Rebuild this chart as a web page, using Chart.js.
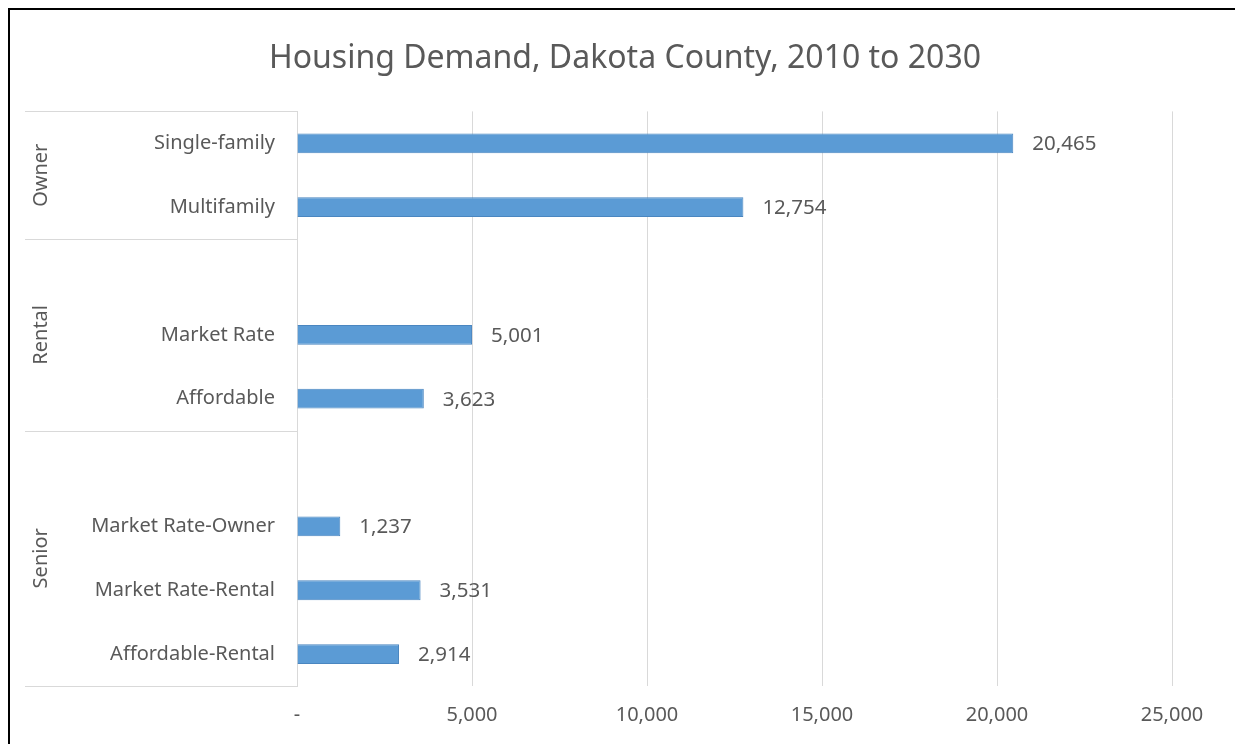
<!DOCTYPE html>
<html>
<head>
<meta charset="utf-8">
<script src="https://cdn.jsdelivr.net/npm/chart.js@4.4.1/dist/chart.umd.min.js"></script>
<style>
  html, body { margin: 0; padding: 0; background: #fff; overflow: hidden; }
  #wrap { position: relative; width: 1235px; height: 744px; overflow: hidden; }
  #frame {
    position: absolute; left: 8px; top: 8px; right: 0; bottom: 0;
    border-left: 2px solid #000; border-top: 2px solid #000;
    pointer-events: none;
  }
</style>
</head>
<body>
<div id="wrap">
  <canvas id="chart" width="1235" height="744"></canvas>
  <div id="frame"></div>
</div>
<script>
// Rows of the chart; blank rows keep a gap between the groups
const categories = [
  'Single-family', 'Multifamily',
  '', 'Market Rate', 'Affordable',
  '', 'Market Rate-Owner', 'Market Rate-Rental', 'Affordable-Rental',
];
const demand = [20465, 12754, null, 5001, 3623, null, 1237, 3531, 2914];

// Outer category level: name plus first/last row index
const groupNames = ['Owner', 'Rental', 'Senior'];
const groupStart = [0, 2, 5];
const groupEnd = [1, 4, 8];

const xTicks = [0, 5000, 10000, 15000, 20000, 25000];

const TEXT = '#595959';
const LINE = '#d9d9d9';
const FONT = '"Noto Sans", sans-serif';

const fmt = (v) => (v === 0 ? '-' : v.toLocaleString('en-US'));

// Draws the value next to the end of each bar
const valueLabels = {
  id: 'valueLabels',
  afterDatasetsDraw(chart) {
    const { ctx } = chart;
    const meta = chart.getDatasetMeta(0);
    ctx.save();
    ctx.font = `20.5px ${FONT}`;
    ctx.fillStyle = TEXT;
    ctx.textAlign = 'left';
    ctx.textBaseline = 'middle';
    meta.data.forEach((bar, i) => {
      const v = demand[i];
      if (v == null) return;
      ctx.fillText(fmt(v), bar.x + 19, bar.y + 1);
    });
    ctx.restore();
  },
};

// Group column on the left: separator lines and rotated group names
const groupColumn = {
  id: 'groupColumn',
  afterDraw(chart) {
    const { ctx } = chart;
    const y = chart.scales.y;
    const half = (y.getPixelForValue(1) - y.getPixelForValue(0)) / 2;
    const x0 = 25;
    const x1 = chart.chartArea.left;
    ctx.save();
    ctx.strokeStyle = LINE;
    ctx.lineWidth = 1;
    const edges = [y.getPixelForValue(0) - half];
    groupEnd.forEach((e) => edges.push(y.getPixelForValue(e) + half));
    edges.forEach((py) => {
      ctx.beginPath();
      ctx.moveTo(x0, Math.round(py) + 0.5);
      ctx.lineTo(x1, Math.round(py) + 0.5);
      ctx.stroke();
    });
    ctx.font = `20px ${FONT}`;
    ctx.fillStyle = TEXT;
    ctx.textAlign = 'center';
    ctx.textBaseline = 'middle';
    groupNames.forEach((name, g) => {
      const cy = (y.getPixelForValue(groupStart[g]) + y.getPixelForValue(groupEnd[g])) / 2;
      ctx.save();
      ctx.translate(41, cy);
      ctx.rotate(-Math.PI / 2);
      ctx.fillText(name, 0, 0);
      ctx.restore();
    });
    ctx.restore();
  },
};

new Chart(document.getElementById('chart'), {
  type: 'bar',
  data: {
    labels: categories,
    datasets: [{
      data: demand,
      backgroundColor: '#5b9bd5',
      borderColor: '#4a86c0',
      borderWidth: 1,
      barPercentage: 0.31,
      categoryPercentage: 1,
    }],
  },
  options: {
    indexAxis: 'y',
    responsive: false,
    animation: false,
    layout: { padding: { left: 78, right: 63, top: 0, bottom: 0 } },
    plugins: {
      legend: { display: false },
      tooltip: { enabled: false },
      title: {
        display: true,
        text: 'Housing Demand, Dakota County, 2010 to 2030',
        color: TEXT,
        font: { family: FONT, size: 32, weight: 'normal', lineHeight: 1.2 },
        padding: { top: 40, bottom: 33 },
      },
    },
    scales: {
      x: {
        min: 0,
        max: 25000,
        afterBuildTicks: (scale) => { scale.ticks = xTicks.map((v) => ({ value: v })); },
        afterFit: (scale) => { scale.height = 58; },
        ticks: {
          color: TEXT,
          font: { family: FONT, size: 20 },
          padding: 17,
          callback: (v) => fmt(v),
        },
        grid: {
          drawTicks: false,
          color: (c) => (c.tick && c.tick.value === 0 ? 'rgba(0,0,0,0)' : LINE),
        },
        border: { display: false },
      },
      y: {
        afterFit: (scale) => { scale.width = 219; },
        ticks: {
          color: TEXT,
          font: { family: FONT, size: 20 },
          padding: 22,
          autoSkip: false,
        },
        grid: { display: false, drawTicks: false },
        border: { display: true, color: LINE, width: 1 },
      },
    },
  },
  plugins: [valueLabels, groupColumn],
});
</script>
</body>
</html>
